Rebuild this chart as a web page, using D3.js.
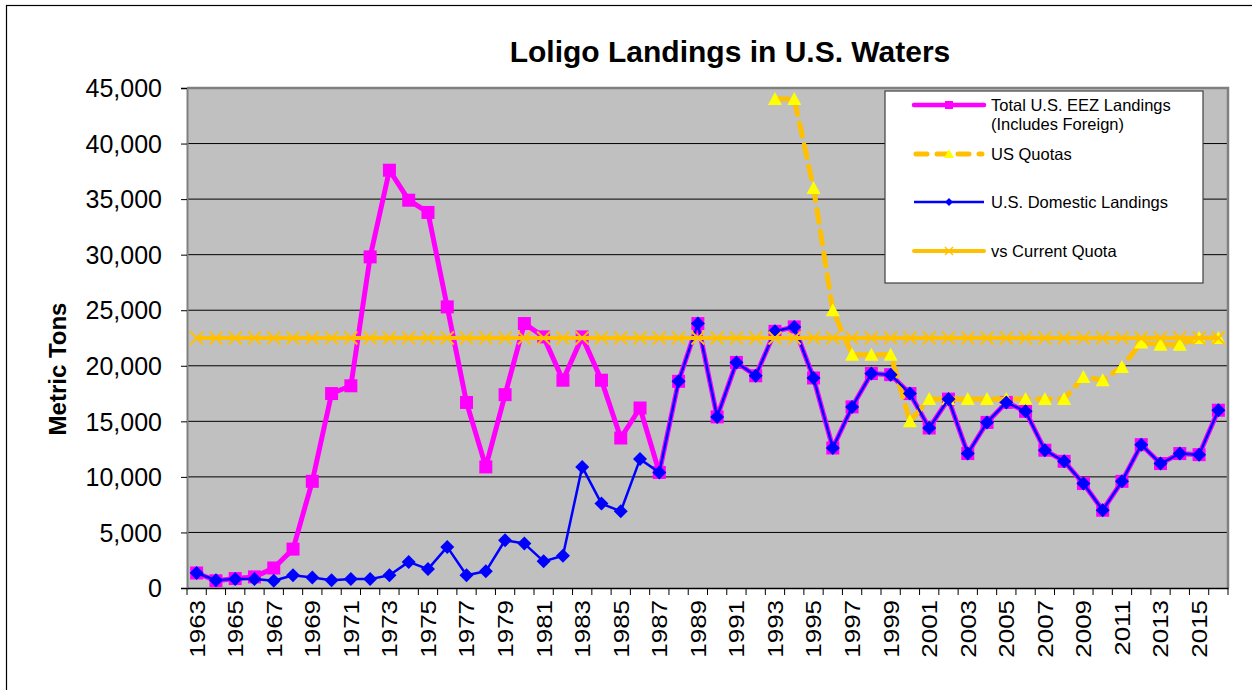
<!DOCTYPE html>
<html>
<head>
<meta charset="utf-8">
<script src="https://cdn.jsdelivr.net/npm/d3@7"></script>
<style>
  html, body { margin: 0; padding: 0; background: #fff; }
  svg { display: block; font-family: "Liberation Sans", Arial, sans-serif; }
</style>
</head>
<body>
<svg id="chart" width="1252" height="690"></svg>
<script>
const years = d3.range(1963, 2017);
const totalLandings = [1350, 650, 850, 1000, 1800, 3500, 9600, 17500, 18200, 29800,
  37600, 34900, 33800, 25300, 16700, 10900, 17400, 23800, 22600, 18700,
  22600, 18700, 13500, 16200, 10400, 18600, 23800, 15400, 20300, 19100,
  23100, 23500, 18900, 12600, 16300, 19300, 19200, 17500, 14400, 17000,
  12100, 14900, 16700, 15900, 12400, 11400, 9400, 7000, 9600, 12900,
  11200, 12100, 12000, 16000];
const domesticLandings = [1350, 700, 800, 800, 650, 1150, 950, 700, 800, 800,
  1150, 2350, 1700, 3700, 1150, 1500, 4300, 4000, 2400, 2900,
  10900, 7600, 6900, 11600, 10400, 18600, 23800, 15400, 20300, 19100,
  23100, 23500, 18900, 12600, 16300, 19300, 19200, 17500, 14400, 17000,
  12100, 14900, 16700, 15900, 12400, 11400, 9400, 7000, 9600, 12900,
  11200, 12100, 12000, 16000];
const quotaYears = d3.range(1993, 2017);
const usQuotas = [44000, 44000, 36000, 25000, 21000, 21000, 21000, 15000, 17000, 17000,
  17000, 17000, 17000, 17000, 17000, 17000, 19000, 18700, 19900, 22100,
  21900, 21900, 22500, 22500];
const currentQuota = years.map(() => 22500);
const yTicks = [0, 5000, 10000, 15000, 20000, 25000, 30000, 35000, 40000, 45000];
const xLabelYears = years.filter(y => (y - 1963) % 2 === 0);
const legendLabels = [["Total U.S. EEZ Landings", "(Includes Foreign)"], ["US Quotas"], ["U.S. Domestic Landings"], ["vs Current Quota"]];

const svg = d3.select("#chart");
const L = 187, R = 1228, T = 88, B = 588;

// outer chart border
svg.append("rect").attr("x", 6.5).attr("y", 5.5).attr("width", 1300).attr("height", 800)
  .attr("fill", "#fff").attr("stroke", "#000").attr("stroke-width", 1.2);

const x = d3.scaleBand().domain(years).range([L, R]).padding(0);
const cx = d => x(d) + x.bandwidth() / 2;
const y = d3.scaleLinear().domain([0, 45000]).range([B, T]);

// plot area
svg.append("rect").attr("x", L).attr("y", T).attr("width", R - L).attr("height", B - T)
  .attr("fill", "#C0C0C0");

// gridlines
svg.append("g").selectAll("line").data(yTicks.filter(v => v > 0 && v < 45000)).join("line")
  .attr("x1", L).attr("x2", R).attr("y1", d => y(d)).attr("y2", d => y(d))
  .attr("stroke", "#000").attr("stroke-width", 1);

// plot border (top/right gray)
svg.append("path").attr("d", `M${L},${T}H${R}V${B}`).attr("fill", "none")
  .attr("stroke", "#808080").attr("stroke-width", 2.5);

// y axis
const yAxis = svg.append("g").attr("transform", `translate(${L},0)`)
  .call(d3.axisLeft(y).tickValues(yTicks).tickFormat(d3.format(",")).tickSize(6).tickPadding(19));
yAxis.select(".domain").attr("stroke", "#808080").attr("stroke-width", 2);
yAxis.selectAll(".tick line").attr("stroke", "#000");
yAxis.selectAll("text").attr("font-size", 25).attr("fill", "#000")
  .attr("font-family", "'Liberation Sans', Arial, sans-serif").attr("dy", "0.35em");

// x axis
const xAxis = svg.append("g").attr("transform", `translate(0,${B})`)
  .call(d3.axisBottom(x).tickValues(xLabelYears).tickSize(0).tickPadding(0));
xAxis.select(".domain").attr("stroke", "#000").attr("stroke-width", 1.5);
xAxis.selectAll("text")
  .attr("font-size", 22).attr("fill", "#000")
  .attr("font-family", "'Liberation Sans', Arial, sans-serif")
  .attr("text-anchor", "end").attr("x", 0).attr("y", 0).attr("dy", "0.36em")
  .attr("transform", "translate(0,12) rotate(-90) scale(1.18,1)");
// category boundary ticks
xAxis.append("g").selectAll("line").data(years.map(d => x(d)).concat([R])).join("line")
  .attr("x1", d => d).attr("x2", d => d).attr("y1", 0).attr("y2", 7)
  .attr("stroke", "#000").attr("stroke-width", 1);

// title and axis label
svg.append("text").attr("x", 730).attr("y", 62).attr("text-anchor", "middle")
  .attr("font-size", 30).attr("font-weight", "bold").text("Loligo Landings in U.S. Waters");
svg.append("text").attr("transform", "translate(66,369) rotate(-90)").attr("text-anchor", "middle")
  .attr("font-size", 24).attr("font-weight", "bold").text("Metric Tons");

const line = d3.line().defined(d => d[1] != null).x(d => cx(d[0])).y(d => y(d[1]));
const g = svg.append("g");

// Total landings (magenta)
const totData = years.map((yr, i) => [yr, totalLandings[i]]);
g.append("path").datum(totData).attr("d", line).attr("fill", "none")
  .attr("stroke", "#FF00FF").attr("stroke-width", 5).attr("stroke-linejoin", "round");
g.append("g").selectAll("rect").data(totData).join("rect")
  .attr("x", d => cx(d[0]) - 6.5).attr("y", d => y(d[1]) - 6.5)
  .attr("width", 13).attr("height", 13).attr("fill", "#FF00FF");

// US Quotas
const qData = quotaYears.map((yr, i) => [yr, usQuotas[i]]);
g.append("path").datum(qData).attr("d", line).attr("fill", "none")
  .attr("stroke", "#FFC000").attr("stroke-width", 5).attr("stroke-dasharray", "13,9")
  .attr("stroke-linecap", "round");
g.append("g").selectAll("path").data(qData).join("path")
  .attr("transform", d => `translate(${cx(d[0])},${y(d[1])})`)
  .attr("d", "M0,-7L7,6L-7,6Z").attr("fill", "#FFFF00");

// Domestic (blue)
const domData = years.map((yr, i) => [yr, domesticLandings[i]]);
g.append("path").datum(domData).attr("d", line).attr("fill", "none")
  .attr("stroke", "#0000FF").attr("stroke-width", 2.5).attr("stroke-linejoin", "round");
g.append("g").selectAll("path").data(domData).join("path")
  .attr("transform", d => `translate(${cx(d[0])},${y(d[1])})`)
  .attr("d", "M0,-7L7,0L0,7L-7,0Z").attr("fill", "#0000FF");

// Current quota
const cqData = years.map((yr, i) => [yr, currentQuota[i]]);
g.append("path").datum(cqData).attr("d", line).attr("fill", "none")
  .attr("stroke", "#FFC000").attr("stroke-width", 4);
g.append("g").selectAll("path").data(cqData).join("path")
  .attr("transform", d => `translate(${cx(d[0])},${y(d[1])})`)
  .attr("d", "M-6.5,-6.5L6.5,6.5M-6.5,6.5L6.5,-6.5").attr("stroke", "#FFC000").attr("stroke-width", 1.8);

// Legend
const lg = svg.append("g");
lg.append("rect").attr("x", 885).attr("y", 91).attr("width", 318).attr("height", 192)
  .attr("fill", "#fff").attr("stroke", "#404040").attr("stroke-width", 1.2);
const rowsY = [105, 154, 202, 251];
const lx1 = 914, lx2 = 984, lmx = 949;
// row 1
lg.append("line").attr("x1", lx1).attr("x2", lx2).attr("y1", rowsY[0]).attr("y2", rowsY[0])
  .attr("stroke", "#FF00FF").attr("stroke-width", 4.5).attr("stroke-linecap", "round");
lg.append("rect").attr("x", lmx - 4).attr("y", rowsY[0] - 4).attr("width", 8).attr("height", 8).attr("fill", "#FF00FF");
// row 2
lg.append("line").attr("x1", lx1 + 2).attr("x2", lx2 - 2).attr("y1", rowsY[1]).attr("y2", rowsY[1])
  .attr("stroke", "#FFC000").attr("stroke-width", 5).attr("stroke-dasharray", "11,10")
  .attr("stroke-linecap", "round");
lg.append("path").attr("transform", `translate(${lmx},${rowsY[1]})`)
  .attr("d", "M0,-5L5,4L-5,4Z").attr("fill", "#FFFF00");
// row 3
lg.append("line").attr("x1", lx1).attr("x2", lx2).attr("y1", rowsY[2]).attr("y2", rowsY[2])
  .attr("stroke", "#0000FF").attr("stroke-width", 2.5);
lg.append("path").attr("transform", `translate(${lmx},${rowsY[2]})`)
  .attr("d", "M0,-4L4,0L0,4L-4,0Z").attr("fill", "#0000FF");
// row 4
lg.append("line").attr("x1", lx1).attr("x2", lx2).attr("y1", rowsY[3]).attr("y2", rowsY[3])
  .attr("stroke", "#FFC000").attr("stroke-width", 4).attr("stroke-linecap", "round");
lg.append("path").attr("transform", `translate(${lmx},${rowsY[3]})`)
  .attr("d", "M-4,-4L4,4M-4,4L4,-4").attr("stroke", "#FFC000").attr("stroke-width", 1.3);

legendLabels.forEach((lines, i) => {
  const t = lg.append("text").attr("x", 991).attr("y", rowsY[i]).attr("font-size", 16.5).attr("fill", "#000");
  lines.forEach((s, j) => {
    t.append("tspan").attr("x", 991).attr("dy", j === 0 ? "0.36em" : "1.17em").text(s);
  });
});
</script>
</body>
</html>
